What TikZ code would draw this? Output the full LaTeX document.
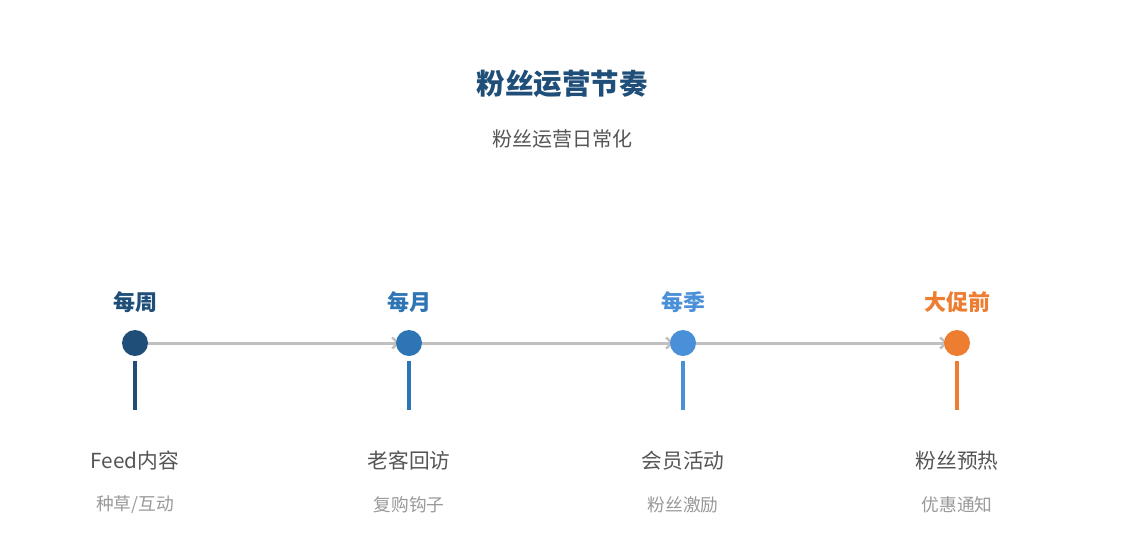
\documentclass[tikz,border=0pt]{standalone}
\usepackage{fontspec}
\setmainfont{Noto Sans CJK SC}
\usetikzlibrary{arrows.meta}
\definecolor{cA}{HTML}{1F4E79}
\definecolor{cB}{HTML}{2E75B6}
\definecolor{cC}{HTML}{4A90D9}
\definecolor{cD}{HTML}{ED7D31}
\definecolor{lineg}{HTML}{C0C0C0}
\definecolor{txt}{HTML}{555555}
\definecolor{subt}{HTML}{999999}
\tikzset{
  dot/.style={circle, fill=#1, minimum size=26pt, inner sep=0pt},
  phase/.style={font=\fontsize{22}{24}\selectfont\bfseries, text=#1, inner sep=0pt},
  lbl/.style={font=\fontsize{20.7}{23}\selectfont, text=txt, inner sep=0pt},
  sublbl/.style={font=\fontsize{17.7}{20}\selectfont, text=subt, inner sep=0pt},
  conn/.style={draw=lineg, line width=3pt, -{Straight Barb[length=6pt,width=11pt,line width=2.5pt]}},
  stem/.style={draw=#1, line width=3.6pt}
}
\begin{document}
\begin{tikzpicture}[x=1pt,y=-1pt]
\useasboundingbox (0,0) rectangle (1125,555);
\fill[white] (0,0) rectangle (1125,555);
\node[font=\fontsize{28.5}{30}\selectfont\bfseries, text=cA, inner sep=0pt] (title) at (562,84) {粉丝运营节奏};
\node[font=\fontsize{20}{22}\selectfont, text=txt, inner sep=0pt] (subtitle) at (562,139) {粉丝运营日常化};
% connectors
\coordinate (p1) at (135,343);
\coordinate (p2) at (409,343);
\coordinate (p3) at (683,343);
\coordinate (p4) at (957,343);
\draw[conn] ([xshift=13pt]p1) -- ([xshift=-9pt]p2);
\draw[conn] ([xshift=13pt]p2) -- ([xshift=-9pt]p3);
\draw[conn] ([xshift=13pt]p3) -- ([xshift=-9pt]p4);
% dots
\node[dot=cA] (d1) at (p1) {};
\node[dot=cB] (d2) at (p2) {};
\node[dot=cC] (d3) at (p3) {};
\node[dot=cD] (d4) at (p4) {};
% stems
\coordinate (s1a) at (135,361); \coordinate (s1b) at (135,410);
\coordinate (s2a) at (409,361); \coordinate (s2b) at (409,410);
\coordinate (s3a) at (683,361); \coordinate (s3b) at (683,410);
\coordinate (s4a) at (957,361); \coordinate (s4b) at (957,410);
\draw[stem=cA] (s1a) -- (s1b);
\draw[stem=cB] (s2a) -- (s2b);
\draw[stem=cC] (s3a) -- (s3b);
\draw[stem=cD] (s4a) -- (s4b);
% phase labels
\node[phase=cA] (t1) at (135,302) {每周};
\node[phase=cB] (t2) at (409,302) {每月};
\node[phase=cC] (t3) at (683,302) {每季};
\node[phase=cD] (t4) at (957,302) {大促前};
% bottom labels
\node[lbl] (l1) at (135,460.5) {Feed内容};
\node[lbl] (l2) at (409,460.5) {老客回访};
\node[lbl] (l3) at (683,460.5) {会员活动};
\node[lbl] (l4) at (957,460.5) {粉丝预热};
\node[sublbl] (m1) at (135,504.5) {种草/互动};
\node[sublbl] (m2) at (409,504.5) {复购钩子};
\node[sublbl] (m3) at (683,504.5) {粉丝激励};
\node[sublbl] (m4) at (957,504.5) {优惠通知};
\end{tikzpicture}
\end{document}
